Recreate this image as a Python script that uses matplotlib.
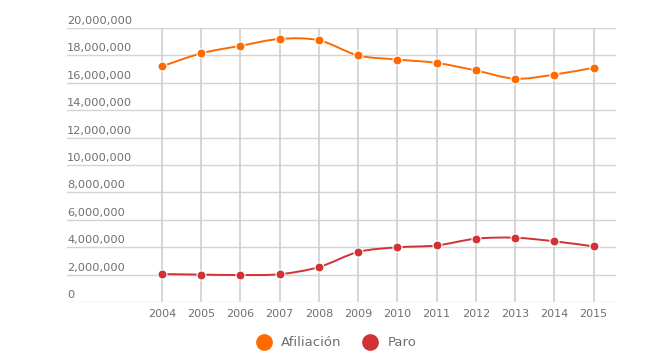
import matplotlib.pyplot as plt
from matplotlib.lines import Line2D
from matplotlib.path import Path
from matplotlib.patches import PathPatch

# Datos
anios = [2004, 2005, 2006, 2007, 2008, 2009, 2010, 2011, 2012, 2013, 2014, 2015]
afiliacion = [17200000, 18150000, 18700000, 19200000, 19100000, 18000000,
              17700000, 17450000, 16900000, 16300000, 16600000, 17100000]
paro = [2040000, 2000000, 1970000, 2030000, 2550000, 3650000,
        3990000, 4130000, 4620000, 4690000, 4430000, 4060000]
yticks = list(range(0, 20000001, 2000000))

naranja = '#ff6a00'
rojo = '#d03236'
gris_texto = '#6f6f6f'


def curva_suave(xs, ys):
    # línea tipo "spline" (Catmull-Rom como Bezier cúbica) que pasa por los puntos
    n = len(xs)
    verts = [(xs[0], ys[0])]
    codes = [Path.MOVETO]
    for i in range(n - 1):
        x0, y0 = (xs[i - 1], ys[i - 1]) if i > 0 else (xs[i], ys[i])
        x3, y3 = (xs[i + 2], ys[i + 2]) if i + 2 < n else (xs[i + 1], ys[i + 1])
        x1, y1 = xs[i], ys[i]
        x2, y2 = xs[i + 1], ys[i + 1]
        c1 = (x1 + (x2 - x0) / 6, y1 + (y2 - y0) / 6)
        c2 = (x2 - (x3 - x1) / 6, y2 - (y3 - y1) / 6)
        verts += [c1, c2, (x2, y2)]
        codes += [Path.CURVE4] * 3
    return Path(verts, codes)


fig = plt.figure(figsize=(6.47, 3.64), dpi=100)
ax = fig.add_axes([67 / 647, 1 - 302 / 364, (616 - 67) / 647, (302 - 28) / 364])

for serie, color in [(afiliacion, naranja), (paro, rojo)]:
    ax.add_patch(PathPatch(curva_suave(anios, serie), fc='none', ec=color,
                           lw=1.4, zorder=3))
    ax.plot(anios, serie, ls='none', marker='o', ms=6.5,
            mfc=color, mec='white', mew=0.8, zorder=4)

ax.set_xlim(2001.58, 2015.57)
ax.set_ylim(0, 20000000)

# Rejilla
for v in yticks:
    ax.axhline(v, color='#d4d4d4', lw=1, zorder=1)
ax.set_xticks(anios)
ax.set_xticklabels([str(a) for a in anios], color=gris_texto, fontsize=8)
ax.tick_params(axis='x', length=0, pad=5)
ax.set_yticks([])
for a in anios:
    ax.axvline(a, color='#cfcfcf', lw=1.2, zorder=1)
for s in ax.spines.values():
    s.set_visible(False)

# Etiquetas del eje Y sobre las líneas
for v in yticks:
    ax.annotate(f'{v:,}', xy=(0, v), xycoords=('axes fraction', 'data'),
                xytext=(0, 1.5), textcoords='offset points',
                ha='left', va='bottom', color=gris_texto, fontsize=8.2)

# Leyenda
handles = [Line2D([], [], ls='none', marker='o', ms=11, color=naranja),
           Line2D([], [], ls='none', marker='o', ms=11, color=rojo)]
fig.legend(handles, ['Afiliación', 'Paro'], loc='center', ncol=2,
           bbox_to_anchor=(336 / 647, 1 - 343 / 364), frameon=False,
           fontsize=9.5, labelcolor=gris_texto, handletextpad=0.7,
           columnspacing=1.6, handlelength=1.2)

fig.savefig('out.png', dpi=100)
